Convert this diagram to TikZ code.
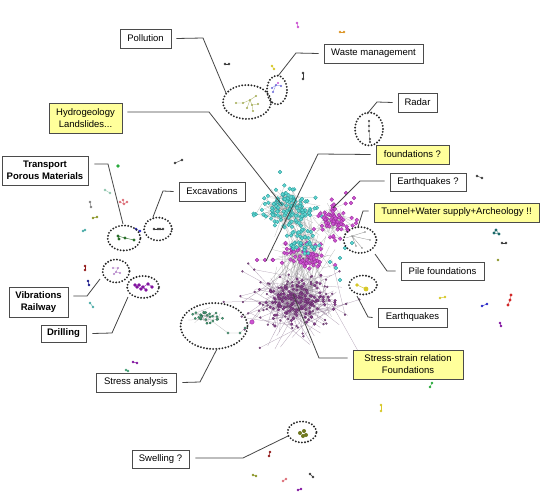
\documentclass[tikz,border=0pt]{standalone}
\usepackage{fontspec}
\setmainfont{Liberation Sans}
\usetikzlibrary{shapes.geometric,calc}
\definecolor{boxyellow}{RGB}{255,255,155}
\definecolor{boxline}{RGB}{75,75,75}
\definecolor{connline}{RGB}{70,70,70}
\definecolor{cyn}{RGB}{95,215,210}
\definecolor{cynd}{RGB}{40,150,150}
\definecolor{mag}{RGB}{205,85,210}
\definecolor{magd}{RGB}{150,40,150}
\definecolor{pur}{RGB}{140,70,145}
\definecolor{purd}{RGB}{95,40,100}
\definecolor{tea}{RGB}{70,160,120}
\definecolor{edg}{RGB}{140,140,140}
\definecolor{edgp}{RGB}{140,115,145}
\definecolor{olv}{RGB}{140,150,40}
\definecolor{ylw}{RGB}{215,200,40}
\definecolor{grn}{RGB}{40,170,60}
\definecolor{dgrn}{RGB}{40,110,40}
\definecolor{blu}{RGB}{40,40,200}
\definecolor{rd}{RGB}{210,40,40}
\definecolor{pnk}{RGB}{220,110,120}
\definecolor{org}{RGB}{220,150,40}
\definecolor{dk}{RGB}{60,60,60}
\definecolor{lpur}{RGB}{180,130,200}
\definecolor{vio}{RGB}{130,20,160}

\newcommand\clusteredges[7]{%
  \pgfmathsetseed{#1}%
  \foreach \k in {1,...,#2}{%
    \pgfmathsetmacro\ax{#3+#5*2*(rnd+rnd+rnd-1.5)}%
    \pgfmathsetmacro\ay{#4+#6*2*(rnd+rnd+rnd-1.5)}%
    \pgfmathsetmacro\bx{#3+#5*2*(rnd+rnd+rnd-1.5)}%
    \pgfmathsetmacro\by{#4+#6*2*(rnd+rnd+rnd-1.5)}%
    \draw[#7] (\ax,\ay) -- (\bx,\by);
  }}
\newcommand\clusternodes[7]{%
  \pgfmathsetseed{#1}%
  \foreach \k in {1,...,#2}{%
    \pgfmathsetmacro\ax{#3+#5*2*(rnd+rnd+rnd-1.5)}%
    \pgfmathsetmacro\ay{#4+#6*2*(rnd+rnd+rnd-1.5)}%
    \pgfmathsetmacro\bx{#3+#5*2*(rnd+rnd+rnd-1.5)}%
    \pgfmathsetmacro\by{#4+#6*2*(rnd+rnd+rnd-1.5)}%
    \filldraw[#7] (\ax,\ay) circle[];
  }}
% edges between two blobs: seed n cx1 cy1 s1 cx2 cy2 s2
\newcommand\crossedges[8]{%
  \pgfmathsetseed{#1}%
  \foreach \k in {1,...,#2}{%
    \pgfmathsetmacro\ax{#3+#5*2*(rnd+rnd+rnd-1.5)}%
    \pgfmathsetmacro\ay{#4+#5*1.4*(rnd+rnd+rnd-1.5)}%
    \pgfmathsetmacro\bx{#6+#8*2*(rnd+rnd+rnd-1.5)}%
    \pgfmathsetmacro\by{#7+#8*1.4*(rnd+rnd+rnd-1.5)}%
    \draw[edge] (\ax,\ay) -- (\bx,\by);
  }}
\newcommand\pr[3]{\draw[#3,line width=0.4pt] (#1) -- (#2); \fill[#3] (#1) circle[radius=1.3pt]; \fill[#3] (#2) circle[radius=1.3pt];}
\newcommand\sd[3]{\fill[#2] (#1) circle[radius=#3];}

\tikzset{
  lbl/.style={draw=boxline, line width=0.9pt, fill=white, inner sep=1pt, align=center,
    font=\fontsize{9.5}{12}\selectfont, minimum height=19pt},
  ylbl/.style={lbl, fill=boxyellow},
  conn/.style={draw=connline, line width=0.8pt},
  dotell/.style={ellipse, draw=black!85, line width=2.1pt, dash pattern=on 0pt off 3.1pt,
    line cap=round, inner sep=0pt},
  edge/.style={draw=edg, line width=0.25pt, opacity=0.6},
  pedge/.style={draw=edgp, line width=0.25pt, opacity=0.7},
  cynode/.style={fill=cyn, draw=cynd, line width=0.3pt, radius=1.9pt},
  magnode/.style={fill=mag, draw=magd, line width=0.3pt, radius=1.9pt},
  purnode/.style={fill=pur, draw=purd, line width=0.25pt, radius=1.35pt},
  sparsenode/.style={fill=pur!60!gray, draw=purd, line width=0.2pt, radius=1.0pt},
  teanode/.style={fill=tea, draw=tea!60!black, line width=0.2pt, radius=1.2pt},
}

\begin{document}
\begin{tikzpicture}[x=1pt,y=-1pt]
\useasboundingbox[fill=white] (0,0) rectangle (541,497);

% ---------- network edges ----------
\clusteredges{41}{80}{293}{303}{26}{20}{pedge}
\clusteredges{31}{170}{298}{300}{16}{10}{pedge}
\crossedges{71}{45}{298}{300}{14}{305}{250}{12}
\crossedges{72}{20}{310}{255}{10}{292}{212}{12}
\clusteredges{21}{70}{333}{222}{9}{8}{edge}
\clusteredges{22}{65}{307}{256}{13}{7}{edge}
\clusteredges{11}{130}{289}{210}{14}{9.5}{edge}
\clusteredges{12}{40}{303}{240}{9}{7}{edge}
\clusteredges{61}{25}{205}{316}{7}{4}{edge}
\draw[edge] (205,316) -- (228,333) -- (240,333) -- (245,328);
\draw[edge] (252,322) -- (270,300);
\draw[edge] (257,260) -- (273,260) -- (290,255);

% ---------- network nodes ----------
\clusternodes{41}{80}{293}{303}{26}{20}{sparsenode}
\clusternodes{31}{170}{298}{300}{16}{10}{purnode}
\clusternodes{22}{65}{307}{256}{13}{7}{magnode}
\clusternodes{11}{130}{289}{210}{14}{9.5}{cynode}
\clusternodes{12}{40}{303}{240}{9}{7}{cynode}
\clusternodes{21}{70}{333}{222}{9}{8}{magnode}
\clusternodes{61}{25}{205}{316}{7}{4}{teanode}
\foreach \p in {(354,198),(351,203),(346,193),(257,260),(265,260),(273,260)} \filldraw[magnode] \p circle[];
\filldraw[magnode] (252,322) circle[radius=2.2pt];
\foreach \p in {(228,333),(240,333),(245,328)} \filldraw[teanode] \p circle[];
\foreach \p in {(280,172),(330,262),(336,268),(340,258),(345,248),(352,243),(340,280)} \filldraw[cynode] \p circle[];

% ---------- small groups ----------
\pr{297,23}{298,27}{mag}
\pr{340,32}{344,32}{org}
\pr{303,73}{303,79}{dk}
\pr{225,64}{229,64}{dk}
\pr{272,66}{274,69}{ylw}
% pollution group
\draw[olv!70,line width=0.3pt] (236,103) -- (243,103) -- (250,100) -- (256,96) (250,100) -- (252,105) -- (258,104) (252,105) -- (253,111) (250,100) -- (247,108);
\foreach \p in {(236,103),(243,103),(250,100),(256,96),(252,105),(258,104),(253,111),(247,108)} \fill[olv!80] \p circle[radius=1.1pt];
% waste group
\draw[blu!60,line width=0.3pt] (272,88) -- (276,85) -- (281,86) (276,85) -- (273,92);
\foreach \p in {(272,88),(276,85),(281,86),(273,92)} \fill[blu!70] \p circle[radius=1.2pt];
\fill[mag] (278,83) circle[radius=1.1pt];
% radar chain
\draw[dk,line width=0.3pt] (369,121) -- (369,131) -- (370,142);
\foreach \p in {(369,121),(369,126),(369,131),(370,139),(370,142)} \fill[dk] \p circle[radius=1.1pt];
% left side
\sd{118,166}{grn}{1.8pt}
\pr{175,163}{182,160}{dk}
\pr{105,190}{110,193}{tea!60}
\pr{90,202}{91,207}{gray}
\draw[pnk,line width=0.3pt] (120,202) -- (124,204) -- (127,202) (124,204) -- (123,200);
\foreach \p in {(120,202),(124,204),(127,202),(123,200)} \fill[pnk] \p circle[radius=1.4pt];
\pr{93,218}{97,217}{olv}
\pr{83,231}{85,230}{cyn!80!black}
\pr{136,229}{140,231}{blu}
\draw[dgrn,line width=0.4pt] (118,236) -- (125,238) -- (134,240) (118,236) -- (119,239);
\foreach \p in {(118,236),(119,239),(125,238),(134,240)} \fill[dgrn] \p circle[radius=1.7pt];
\pr{154,229}{158,229}{dk}
\pr{160,229}{163,229}{dk}
\pr{85,266}{85,270}{rd!70!black}
\pr{88,281}{89,285}{blu!70!black}
\pr{90,303}{93,307}{cyn!80!black}
\draw[lpur,line width=0.3pt] (113,268) -- (118,268) -- (116,272) -- (120,273) (116,272) -- (114,274);
\foreach \p in {(113,268),(118,268),(116,272),(120,273),(114,274)} \fill[lpur] \p circle[radius=1.1pt];
\draw[vio,line width=0.4pt] (135,285) -- (139,285) -- (143,287) -- (148,284) -- (152,287) (143,287) -- (146,290) (143,287) -- (141,289) -- (137,287);
\foreach \p in {(135,285),(139,285),(143,287),(148,284),(152,287),(146,290),(141,289),(137,287)} \fill[vio] \p circle[radius=1.8pt];
% right side
\pr{477,176}{482,178}{dk}
\draw[cynd!70!black,line width=0.3pt] (496,230) -- (494,233) -- (499,234) -- cycle;
\foreach \p in {(496,230),(494,233),(499,234)} \fill[cynd!70!black] \p circle[radius=1.6pt];
\pr{502,243}{506,243}{dk}
\sd{498,260}{olv}{1.4pt}
\pr{440,298}{445,297}{ylw}
\pr{482,306}{487,304}{blu}
\draw[rd,line width=0.3pt] (511,295) -- (510,300) -- (508,305);
\foreach \p in {(511,295),(510,300),(508,305)} \fill[rd] \p circle[radius=1.6pt];
\pr{500,323}{501,326}{vio}
\draw[ylw,line width=0.5pt] (357,285) -- (366,289);
\fill[ylw] (357,285) circle[radius=1.8pt];
\fill[ylw] (366,289) circle[radius=2.4pt];
\draw[edg,line width=0.3pt] (352,236) -- (365,232) (352,236) -- (370,240) (352,236) -- (356,246) (352,236) -- (362,248) (346,238) -- (352,236);
\foreach \p in {(352,236),(365,232),(370,240),(356,246),(362,248)} \fill[edg] \p circle[radius=0.9pt];
% bottom
\pr{432,383}{430,387}{grn}
\pr{381,405}{381,411}{ylw}
\foreach \p in {(300,433),(304,431),(306,435),(303,436)} \fill[olv!80!black] \p circle[radius=2pt];
\pr{310,474}{313,477}{dk}
\pr{270,452}{269,456}{rd!70!black}
\pr{253,475}{256,476}{olv}
\pr{283,481}{286,479}{pnk}
\pr{298,490}{301,489}{vio}
\pr{133,362}{137,363}{vio}
\pr{126,370}{128,371}{tea}

% ---------- dotted ellipses ----------
\node[dotell, minimum width=48pt, minimum height=34pt] (pollE) at (247,102) {};
\node[dotell, minimum width=20pt, minimum height=29pt] (wasteE) at (277,90) {};
\node[dotell, minimum width=28pt, minimum height=33pt] (radarE) at (369,129) {};
\node[dotell, minimum width=33pt, minimum height=26pt] (tunnelE) at (360,240) {};
\node[dotell, minimum width=28pt, minimum height=19pt] (eqE) at (363,285) {};
\node[dotell, minimum width=33pt, minimum height=25pt] (transE) at (124,238) {};
\node[dotell, minimum width=28pt, minimum height=23pt] (excE) at (158,229) {};
\node[dotell, minimum width=27pt, minimum height=23pt] (vibE) at (116,271) {};
\node[dotell, minimum width=32pt, minimum height=22pt] (drillE) at (143,287) {};
\node[dotell, minimum width=67pt, minimum height=46pt] (stressE) at (214,326) {};
\node[dotell, minimum width=29pt, minimum height=21pt] (swellE) at (302,432) {};

% ---------- label boxes ----------
\node[lbl, minimum width=51pt] (poll) at (145.5,38.5) {Pollution};
\node[lbl, minimum width=99pt] (waste) at (373.5,53.5) {Waste management};
\node[lbl, minimum width=39pt] (radar) at (417.5,102.5) {Radar};
\node[ylbl, minimum width=73pt] (fnd) at (412.5,154.5) {foundations ?};
\node[ylbl, minimum width=73pt, minimum height=30pt] (hydro) at (85.5,118) {Hydrogeology\\Landslides...};
\node[lbl, minimum width=86pt, minimum height=29pt, font=\fontsize{9.5}{12}\selectfont\bfseries] (trans) at (45,170.5) {Transport\\Porous Materials};
\node[lbl, minimum width=66pt] (exc) at (212,191.5) {Excavations};
\node[lbl, minimum width=59pt, minimum height=30pt, font=\fontsize{9.5}{12}\selectfont\bfseries] (vib) at (38.5,302) {Vibrations\\Railway};
\node[lbl, minimum width=45pt, minimum height=17pt, font=\fontsize{9.5}{12}\selectfont\bfseries] (drill) at (63.5,333.5) {Drilling};
\node[lbl, minimum width=80pt] (stress) at (136,382.5) {Stress analysis};
\node[lbl, minimum width=57pt, minimum height=18pt] (swell) at (160.5,459) {Swelling ?};
\node[ylbl, minimum width=110pt, minimum height=29pt] (ss) at (408,364.5) {Stress-strain relation\\Foundations};
\node[lbl, minimum width=76pt, minimum height=18pt] (eqq) at (428,182) {Earthquakes ?};
\node[ylbl, minimum width=165pt] (tun) at (456.5,212.5) {Tunnel+Water supply+Archeology !!};
\node[lbl, minimum width=83pt, minimum height=18pt] (pile) at (442.5,271) {Pile foundations};
\node[lbl, minimum width=69pt] (eq) at (412.5,317.5) {Earthquakes};

% ---------- connectors ----------
\coordinate (pollB) at (203,38);   \coordinate (pollT) at (226,93);
\coordinate (wasteB) at (296,53);  \coordinate (wasteT) at (278,76);
\coordinate (radarB) at (377,102); \coordinate (radarT) at (367,114);
\coordinate (fndB) at (318,154);   \coordinate (fndT) at (266,261);
\coordinate (hydroB) at (209,112); \coordinate (hydroT) at (282,205);
\coordinate (transB) at (108,164); \coordinate (transT) at (123,224);
\coordinate (excB) at (163,191);   \coordinate (excT) at (153,217);
\coordinate (vibB) at (87,296);    \coordinate (vibT) at (100,279);
\coordinate (drillB) at (112,333); \coordinate (drillT) at (128,297);
\coordinate (stressB) at (200,382);\coordinate (stressT) at (217,349);
\coordinate (swellB) at (243,458); \coordinate (swellT) at (288,436);
\coordinate (ssB) at (319,358);    \coordinate (ssT) at (293,294);
\coordinate (eqqB) at (360,181);   \coordinate (eqqT) at (333,208);
\coordinate (tunB) at (363,211);   \coordinate (tunT) at (358,227);
\coordinate (pileB) at (387,271);  \coordinate (pileT) at (375,254);
\coordinate (eqB) at (368,317);    \coordinate (eqT) at (357,296);

\draw[conn] ($(poll.east)+(5,0)$) -- (pollB) -- (pollT);
\draw[conn] ($(waste.west)+(-5,0)$) -- (wasteB) -- (wasteT);
\draw[conn] ($(radar.west)+(-5,0)$) -- (radarB) -- (radarT);
\draw[conn] ($(fnd.west)+(-5,0)$) -- (fndB) -- (fndT);
\draw[conn] ($(hydro.east)+(5,-6)$) -- (hydroB) -- (hydroT);
\draw[conn] ($(trans.east)+(6,-6.5)$) -- (transB) -- (transT);
\draw[conn] ($(exc.west)+(-5,0)$) -- (excB) -- (excT);
\draw[conn] ($(vib.east)+(5,-6)$) -- (vibB) -- (vibT);
\draw[conn] ($(drill.east)+(6,0)$) -- (drillB) -- (drillT);
\draw[conn] ($(stress.east)+(6,0)$) -- (stressB) -- (stressT);
\draw[conn] ($(swell.east)+(6,-1)$) -- (swellB) -- (swellT);
\draw[conn] ($(ss.west)+(-5,-6.5)$) -- (ssB) -- (ssT);
\draw[conn] ($(eqq.west)+(-5,-1)$) -- (eqqB) -- (eqqT);
\draw[conn] ($(tun.west)+(-5,-1.5)$) -- (tunB) -- (tunT);
\draw[conn] ($(pile.west)+(-5,0)$) -- (pileB) -- (pileT);
\draw[conn] ($(eq.west)+(-5,0)$) -- (eqB) -- (eqT);
\end{tikzpicture}
\end{document}
